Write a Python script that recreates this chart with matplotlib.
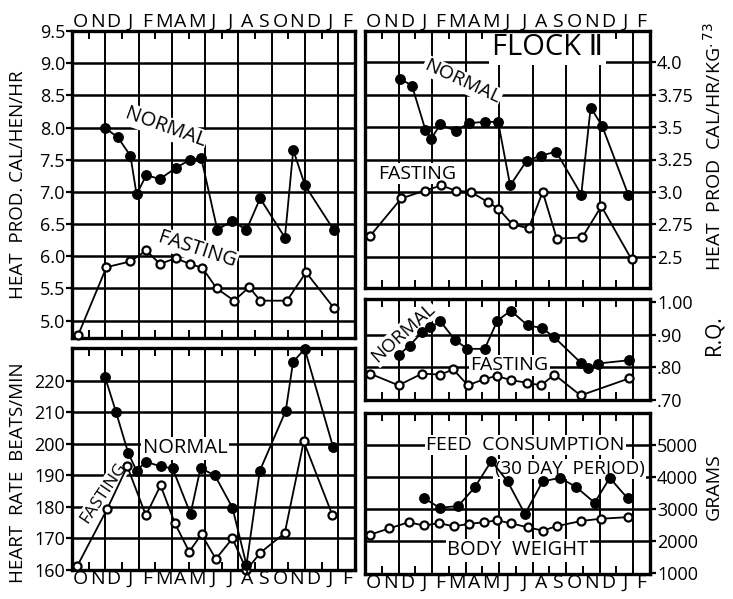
import matplotlib
matplotlib.use("Agg")
import matplotlib.pyplot as plt
import numpy as np

FONT = ["Open Sans", "DejaVu Sans"]
plt.rcParams["font.family"] = FONT

W, H = 733, 599

months = list("ONDJFMAMJJASONDJF")

# Heat production, cal/hen/hr (time in months from start of October)
heat_normal_t = [2.0, 2.75, 3.51, 3.88, 4.46, 5.28, 6.22, 7.09, 7.77, 8.73, 9.6, 10.48, 11.3, 12.79, 13.29, 14.0, 15.72]
heat_normal = [7.99, 7.85, 7.56, 6.96, 7.26, 7.2, 7.37, 7.5, 7.52, 6.41, 6.55, 6.41, 6.9, 6.29, 7.65, 7.1, 6.41]
heat_fast_t = [0.36, 2.07, 3.51, 4.46, 5.28, 6.22, 7.09, 7.83, 8.69, 9.74, 10.64, 11.31, 12.91, 14.06, 15.72]
heat_fast = [4.77, 5.83, 5.92, 6.09, 5.88, 5.97, 5.88, 5.82, 5.5, 5.31, 5.52, 5.31, 5.31, 5.75, 5.2]

# Heat production, cal/hr/kg^.73
hkg_normal_t = [2.1, 2.8, 3.6, 3.94, 4.5, 5.4, 6.2, 7.14, 7.94, 8.66, 9.64, 10.5, 11.4, 12.9, 13.46, 14.14, 15.7]
hkg_normal = [3.87, 3.82, 3.48, 3.41, 3.52, 3.47, 3.53, 3.54, 3.54, 3.05, 3.24, 3.28, 3.31, 2.98, 3.65, 3.51, 2.98]
hkg_fast_t = [0.3, 2.16, 3.56, 4.56, 5.4, 6.3, 7.36, 7.96, 8.8, 9.76, 10.6, 11.44, 12.96, 14.1, 15.9]
hkg_fast = [2.66, 2.95, 3.01, 3.05, 3.01, 3.0, 2.92, 2.87, 2.75, 2.72, 3.0, 2.64, 2.65, 2.89, 2.48]

# Respiratory quotient
rq_normal_t = [2.0, 2.66, 3.4, 3.9, 4.5, 5.36, 6.1, 7.14, 7.9, 8.7, 9.7, 10.56, 11.3, 12.86, 13.3, 13.9, 15.74]
rq_normal = [0.838, 0.867, 0.908, 0.923, 0.941, 0.885, 0.857, 0.857, 0.944, 0.974, 0.929, 0.921, 0.892, 0.815, 0.797, 0.812, 0.822]
rq_fast_t = [0.3, 2.0, 3.4, 4.5, 5.26, 6.14, 7.1, 7.86, 8.7, 9.66, 10.5, 11.3, 12.86, 15.74]
rq_fast = [0.781, 0.745, 0.781, 0.778, 0.794, 0.745, 0.764, 0.774, 0.761, 0.753, 0.745, 0.778, 0.714, 0.766]

# Heart rate, beats/min
hr_normal_t = [1.98, 2.64, 3.38, 3.88, 4.44, 5.32, 6.04, 7.12, 7.72, 8.58, 9.64, 10.48, 11.28, 12.84, 13.28, 13.98, 15.68]
hr_normal = [221.2, 210.1, 197.0, 191.4, 194.3, 192.8, 192.2, 177.8, 192.2, 190.0, 179.7, 161.6, 191.4, 210.4, 225.9, 230.0, 199.0]
hr_fast_t = [0.32, 2.12, 3.32, 4.44, 5.32, 6.18, 7.04, 7.78, 8.64, 9.64, 10.48, 11.32, 12.78, 13.92, 15.64]
hr_fast = [161.3, 179.4, 192.8, 177.3, 186.8, 174.8, 165.8, 171.3, 163.5, 170.0, 160.0, 165.5, 171.7, 200.7, 177.4]

# Feed consumption (30 day period) and body weight, grams
feed_t = [3.54, 4.46, 5.56, 6.56, 7.54, 8.5, 9.54, 10.6, 11.64, 12.6, 13.7, 14.6, 15.66]
feed = [3330, 3030, 3090, 3680, 4500, 3860, 2840, 3860, 3970, 3680, 3190, 3970, 3330]
bw_t = [0.3, 1.46, 2.6, 3.5, 4.44, 5.3, 6.2, 7.1, 7.86, 8.7, 9.7, 10.6, 11.46, 12.9, 14.06, 15.7]
bw = [2190, 2390, 2580, 2480, 2550, 2450, 2530, 2580, 2640, 2550, 2420, 2320, 2460, 2620, 2690, 2740]

fig = plt.figure(figsize=(W / 100, H / 100), dpi=100)


def box(l, t, r, b):
    return [l / W, 1 - b / H, (r - l) / W, (b - t) / H]


def panel(rect, ylim, grid_y, ticks, labels, side):
    ax = fig.add_axes(box(*rect))
    ax.set_xlim(0, 17)
    ax.set_ylim(*ylim)
    for x in range(2, 17, 2):
        ax.axvline(x, color="k", lw=1.4, zorder=1)
    for y in grid_y:
        ax.axhline(y, color="k", lw=1.8, zorder=1)
    for s in ax.spines.values():
        s.set_linewidth(2.4)
    ax.set_xticks(np.arange(1, 17))
    ax.tick_params(axis="x", direction="in", length=6, width=1.4,
                   top=True, bottom=True, labelbottom=False)
    ax.set_yticks(ticks)
    ax.set_yticklabels(labels, fontsize=13)
    if side == "right":
        ax.yaxis.tick_right()
    ax.tick_params(axis="y", direction="out", length=4, width=1.6, pad=1,
                   left=(side == "left"), right=(side == "right"))
    return ax


def series(ax, t, v, filled):
    if filled:
        ax.plot(t, v, "-o", color="k", lw=1.3, ms=6.8, mfc="k", mec="k",
                zorder=3, clip_on=False)
    else:
        ax.plot(t, v, "-o", color="k", lw=1.3, ms=5.8, mfc="white",
                mec="k", mew=1.6, zorder=3, clip_on=False)


def month_row(ax, above):
    y = 1.0 if above else 0.0
    for i, m in enumerate(months):
        ax.text(i + 0.5, y, m, transform=ax.get_xaxis_transform(),
                ha="center", va="bottom" if above else "top", fontsize=14)


WHITE = dict(facecolor="white", edgecolor="none", pad=1.0)

# Heat production per hen
ax1 = panel((72, 31, 355, 338), (4.73, 9.5),
            [5.0, 5.5, 6.0, 6.5, 7.0, 7.5, 8.0, 8.5, 9.0],
            [5.0, 5.5, 6.0, 6.5, 7.0, 7.5, 8.0, 8.5, 9.0, 9.5],
            ["5.0", "5.5", "6.0", "6.5", "7.0", "7.5", "8.0", "8.5", "9.0", "9.5"],
            "left")
series(ax1, heat_fast_t, heat_fast, False)
series(ax1, heat_normal_t, heat_normal, True)
month_row(ax1, True)
ax1.text(5.6, 8.0, "NORMAL", rotation=-20, ha="center", va="center",
         fontsize=14.5, bbox=WHITE, zorder=2)
ax1.text(7.5, 6.1, "FASTING", rotation=-18, ha="center", va="center",
         fontsize=14.5, bbox=WHITE, zorder=2)

# Heart rate
ax2 = panel((72, 348, 355, 570), (160, 230.3),
            [170, 180, 190, 200, 210, 220],
            [160, 170, 180, 190, 200, 210, 220],
            ["160", "170", "180", "190", "200", "210", "220"], "left")
series(ax2, hr_fast_t, hr_fast, False)
series(ax2, hr_normal_t, hr_normal, True)
month_row(ax2, False)
ax2.text(6.8, 198.5, "NORMAL", ha="center", va="center", fontsize=14.5,
         bbox=WHITE, zorder=2)
ax2.text(1.9, 184.4, "FASTING", rotation=56, ha="center", va="center",
         fontsize=12.5, bbox=WHITE, zorder=2)

# Heat production per metabolic size
ax3 = panel((365, 31, 650, 288), (2.26, 4.24),
            [2.5, 2.75, 3.0, 3.25, 3.5, 3.75, 4.0],
            [2.5, 2.75, 3.0, 3.25, 3.5, 3.75, 4.0],
            ["2.5", "2.75", "3.0", "3.25", "3.5", "3.75", "4.0"], "right")
series(ax3, hkg_fast_t, hkg_fast, False)
series(ax3, hkg_normal_t, hkg_normal, True)
month_row(ax3, True)
ax3.text(5.8, 3.85, "NORMAL", rotation=-25, ha="center", va="center",
         fontsize=14, bbox=WHITE, zorder=2)
ax3.text(3.1, 3.14, "FASTING", ha="center", va="center", fontsize=14,
         bbox=WHITE, zorder=2)
ax3.text(10.9, 4.11, "FLOCK \u2161", ha="center", va="center", fontsize=21,
         family=FONT, bbox=dict(facecolor="white", edgecolor="none", pad=2),
         zorder=2)

# Respiratory quotient
ax4 = panel((365, 299, 650, 400), (0.70, 1.01), [0.8, 0.9],
            [0.7, 0.8, 0.9, 1.0], [".70", ".80", ".90", "1.00"], "right")
series(ax4, rq_fast_t, rq_fast, False)
series(ax4, rq_normal_t, rq_normal, True)
ax4.text(2.3, 0.905, "NORMAL", rotation=42, ha="center", va="center",
         fontsize=13.5, bbox=WHITE, zorder=2)
ax4.text(8.6, 0.806, "FASTING", ha="center", va="center", fontsize=14,
         bbox=WHITE, zorder=2)

# Feed consumption and body weight
ax5 = panel((365, 413, 650, 574), (960, 6000), [2000, 3000, 4000, 5000],
            [1000, 2000, 3000, 4000, 5000],
            ["1000", "2000", "3000", "4000", "5000"], "right")
series(ax5, bw_t, bw, False)
series(ax5, feed_t, feed, True)
month_row(ax5, False)
ax5.text(9.55, 5000, "FEED  CONSUMPTION", ha="center", va="center",
         fontsize=14, bbox=WHITE, zorder=2)
ax5.text(12.2, 4250, "(30 DAY  PERIOD)", ha="center", va="center",
         fontsize=13.5, bbox=WHITE, zorder=2)
ax5.text(9.1, 1700, "BODY  WEIGHT", ha="center", va="center",
         fontsize=14.5, bbox=WHITE, zorder=2)

# Axis titles
fig.text(18 / W, 1 - 185 / H, "HEAT  PROD. CAL/HEN/HR", rotation=90,
         ha="center", va="center", fontsize=13.5)
fig.text(18 / W, 1 - 473 / H, "HEART  RATE  BEATS/MIN", rotation=90,
         ha="center", va="center", fontsize=13.5)
fig.text(714 / W, 1 - 147 / H, "HEAT  PROD  CAL/HR/KG$^{.73}$", rotation=90,
         ha="center", va="center", fontsize=14)
fig.text(714 / W, 1 - 335 / H, "R.Q.", rotation=90, ha="center",
         va="center", fontsize=15)
fig.text(714 / W, 1 - 487 / H, "GRAMS", rotation=90, ha="center",
         va="center", fontsize=14)

fig.savefig("out.png", dpi=100, facecolor="white")
